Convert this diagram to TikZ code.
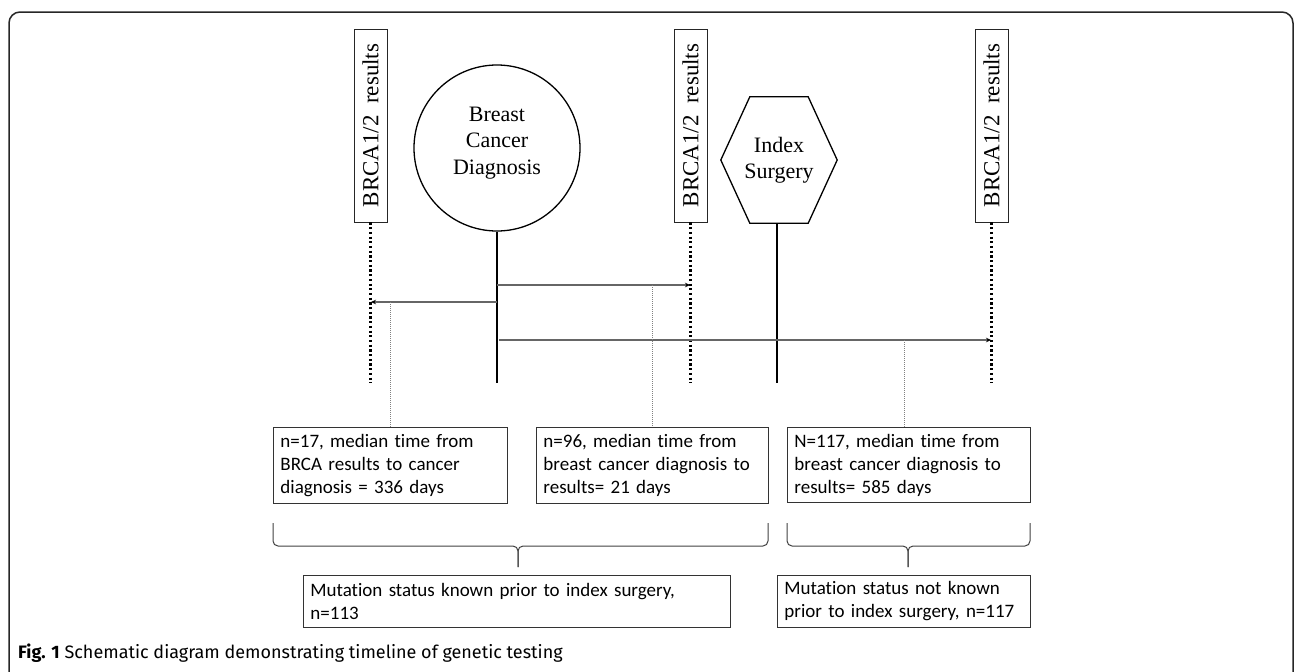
\documentclass[tikz,border=0pt]{standalone}
\usepackage{fontspec}
\setmainfont{Liberation Serif}
\newfontfamily\boxfont[Ligatures=NoCommon]{Carlito}
\newfontfamily\capfont{Fira Sans}
\usetikzlibrary{arrows.meta}
\begin{document}
\begin{tikzpicture}[x=1pt,y=-1pt,
  brca/.style={draw=black!85, line width=0.9pt, rotate=90, minimum width=193pt, minimum height=33pt, inner sep=0pt, font=\fontsize{23}{26}\selectfont},
  tline/.style={line width=2pt, black},
  dotline/.style={line width=2.2pt, black, dash pattern=on 2.2pt off 2.5pt},
  arrline/.style={line width=1.2pt, black!60, -{Stealth[length=5pt,width=4.5pt,black]}},
  drop/.style={line width=0.9pt, black!50, dash pattern=on 1pt off 1pt},
  tbox/.style={draw=black!80, line width=0.9pt, inner xsep=7pt, inner ysep=0pt, align=left, anchor=north west, font=\boxfont\fontsize{19}{23}\selectfont},
  brace/.style={draw=black!75, line width=1pt, rounded corners=5pt},
  bigtext/.style={font=\fontsize{22}{26.5}\selectfont, align=center, inner sep=0pt}
]
\useasboundingbox (0,0) rectangle (1296,672);
% frame
\draw[line width=1.5pt, draw=black!85, rounded corners=11pt] (9,672) -- (9,12) -- (1293,12) -- (1293,672);

% BRCA boxes
\node[brca] (b1) at (370.5,125.5) {BRCA1/2\ \ results\hspace{22pt}};
\node[brca] (b2) at (690.5,125.5) {BRCA1/2\ \ results\hspace{22pt}};
\node[brca] (b3) at (991.5,125.5) {BRCA1/2\ \ results\hspace{22pt}};
\coordinate (b1e) at (370.5,383);
\coordinate (b2e) at (690.5,383);
\coordinate (b3e) at (991.5,383);
\draw[dotline] (b1) -- (b1e);
\draw[dotline] (b2) -- (b2e);
\draw[dotline] (b3) -- (b3e);

% diagnosis circle
\node[circle, draw=black, line width=1.3pt, minimum size=166pt, inner sep=0pt] (dx) at (497,148) {};
\node[bigtext] (dxl) at (497,143) {Breast\\Cancer\\Diagnosis};
\coordinate (dxe) at (497,383);
\draw[tline] (dx) -- (dxe);

% surgery hexagon
\node[minimum width=116pt, minimum height=126pt, bigtext] (sx) at (779,160) {Index\\Surgery};
\draw[line width=1.3pt, black] (sx.west) -- ([xshift=29pt]sx.north west) -- ([xshift=-29pt]sx.north east) -- (sx.east) -- ([xshift=-29pt]sx.south east) -- ([xshift=29pt]sx.south west) -- cycle;
\coordinate (sxe) at (777,383);
\draw[tline] ([xshift=-2pt]sx.south) -- (sxe);

% arrows
\coordinate (a1s) at (497,302); \coordinate (a1e) at (371,302);
\coordinate (a2s) at (497,285); \coordinate (a2e) at (690,285);
\coordinate (a3s) at (499,340); \coordinate (a3e) at (991,340);
\draw[arrline] (a1s) -- (a1e);
\draw[arrline] (a2s) -- (a2e);
\draw[arrline] (a3s) -- (a3e);

% text boxes
\node[tbox, minimum width=234pt, minimum height=76pt, text width=220pt] (tA) at (273,427) {n=17, median time from\\BRCA results to cancer\\diagnosis = 336 days};
\node[tbox, minimum width=232pt, minimum height=76pt, text width=218pt] (tB) at (536,427) {n=96, median time from\\breast cancer diagnosis to\\results= 21 days};
\node[tbox, minimum width=243pt, minimum height=75pt, text width=229pt] (tC) at (787,427) {N=117, median time from\\breast cancer diagnosis to\\results= 585 days};

% drops
\coordinate (d1) at (390,302);
\coordinate (d2) at (652,285);
\coordinate (d3) at (904,340);
\draw[drop] (d1) -- (d1 |- tA.north);
\draw[drop] (d2) -- (d2 |- tB.north);
\draw[drop] (d3) -- (d3 |- tC.north);

% braces
\coordinate (br1l) at (273,523); \coordinate (br1r) at (768,523); \coordinate (br1m) at (518,546); \coordinate (br1t) at (518,567);
\coordinate (br2l) at (787,523); \coordinate (br2r) at (1030,523); \coordinate (br2m) at (908,546); \coordinate (br2t) at (908,567);
\draw[brace] (br1l) -- (br1l |- br1m) -- (br1m) -- (br1t);
\draw[brace] (br1r) -- (br1r |- br1m) -- (br1m) -- (br1t);
\draw[brace] (br2l) -- (br2l |- br2m) -- (br2m) -- (br2t);
\draw[brace] (br2r) -- (br2r |- br2m) -- (br2m) -- (br2t);

% summary boxes
\node[tbox, minimum width=427pt, minimum height=52pt, text width=413pt] (sD) at (303,575) {Mutation status known prior to index surgery,\\n=113};
\node[tbox, minimum width=253pt, minimum height=52pt, text width=239pt] (sE) at (777,575) {Mutation status not known\\prior to index surgery, n=117};

% caption
\node[anchor=west, inner sep=0pt, font=\capfont\fontsize{18}{21}\selectfont] (cap) at (18,653) {\textbf{Fig. 1} Schematic diagram demonstrating timeline of genetic testing};
\end{tikzpicture}
\end{document}
